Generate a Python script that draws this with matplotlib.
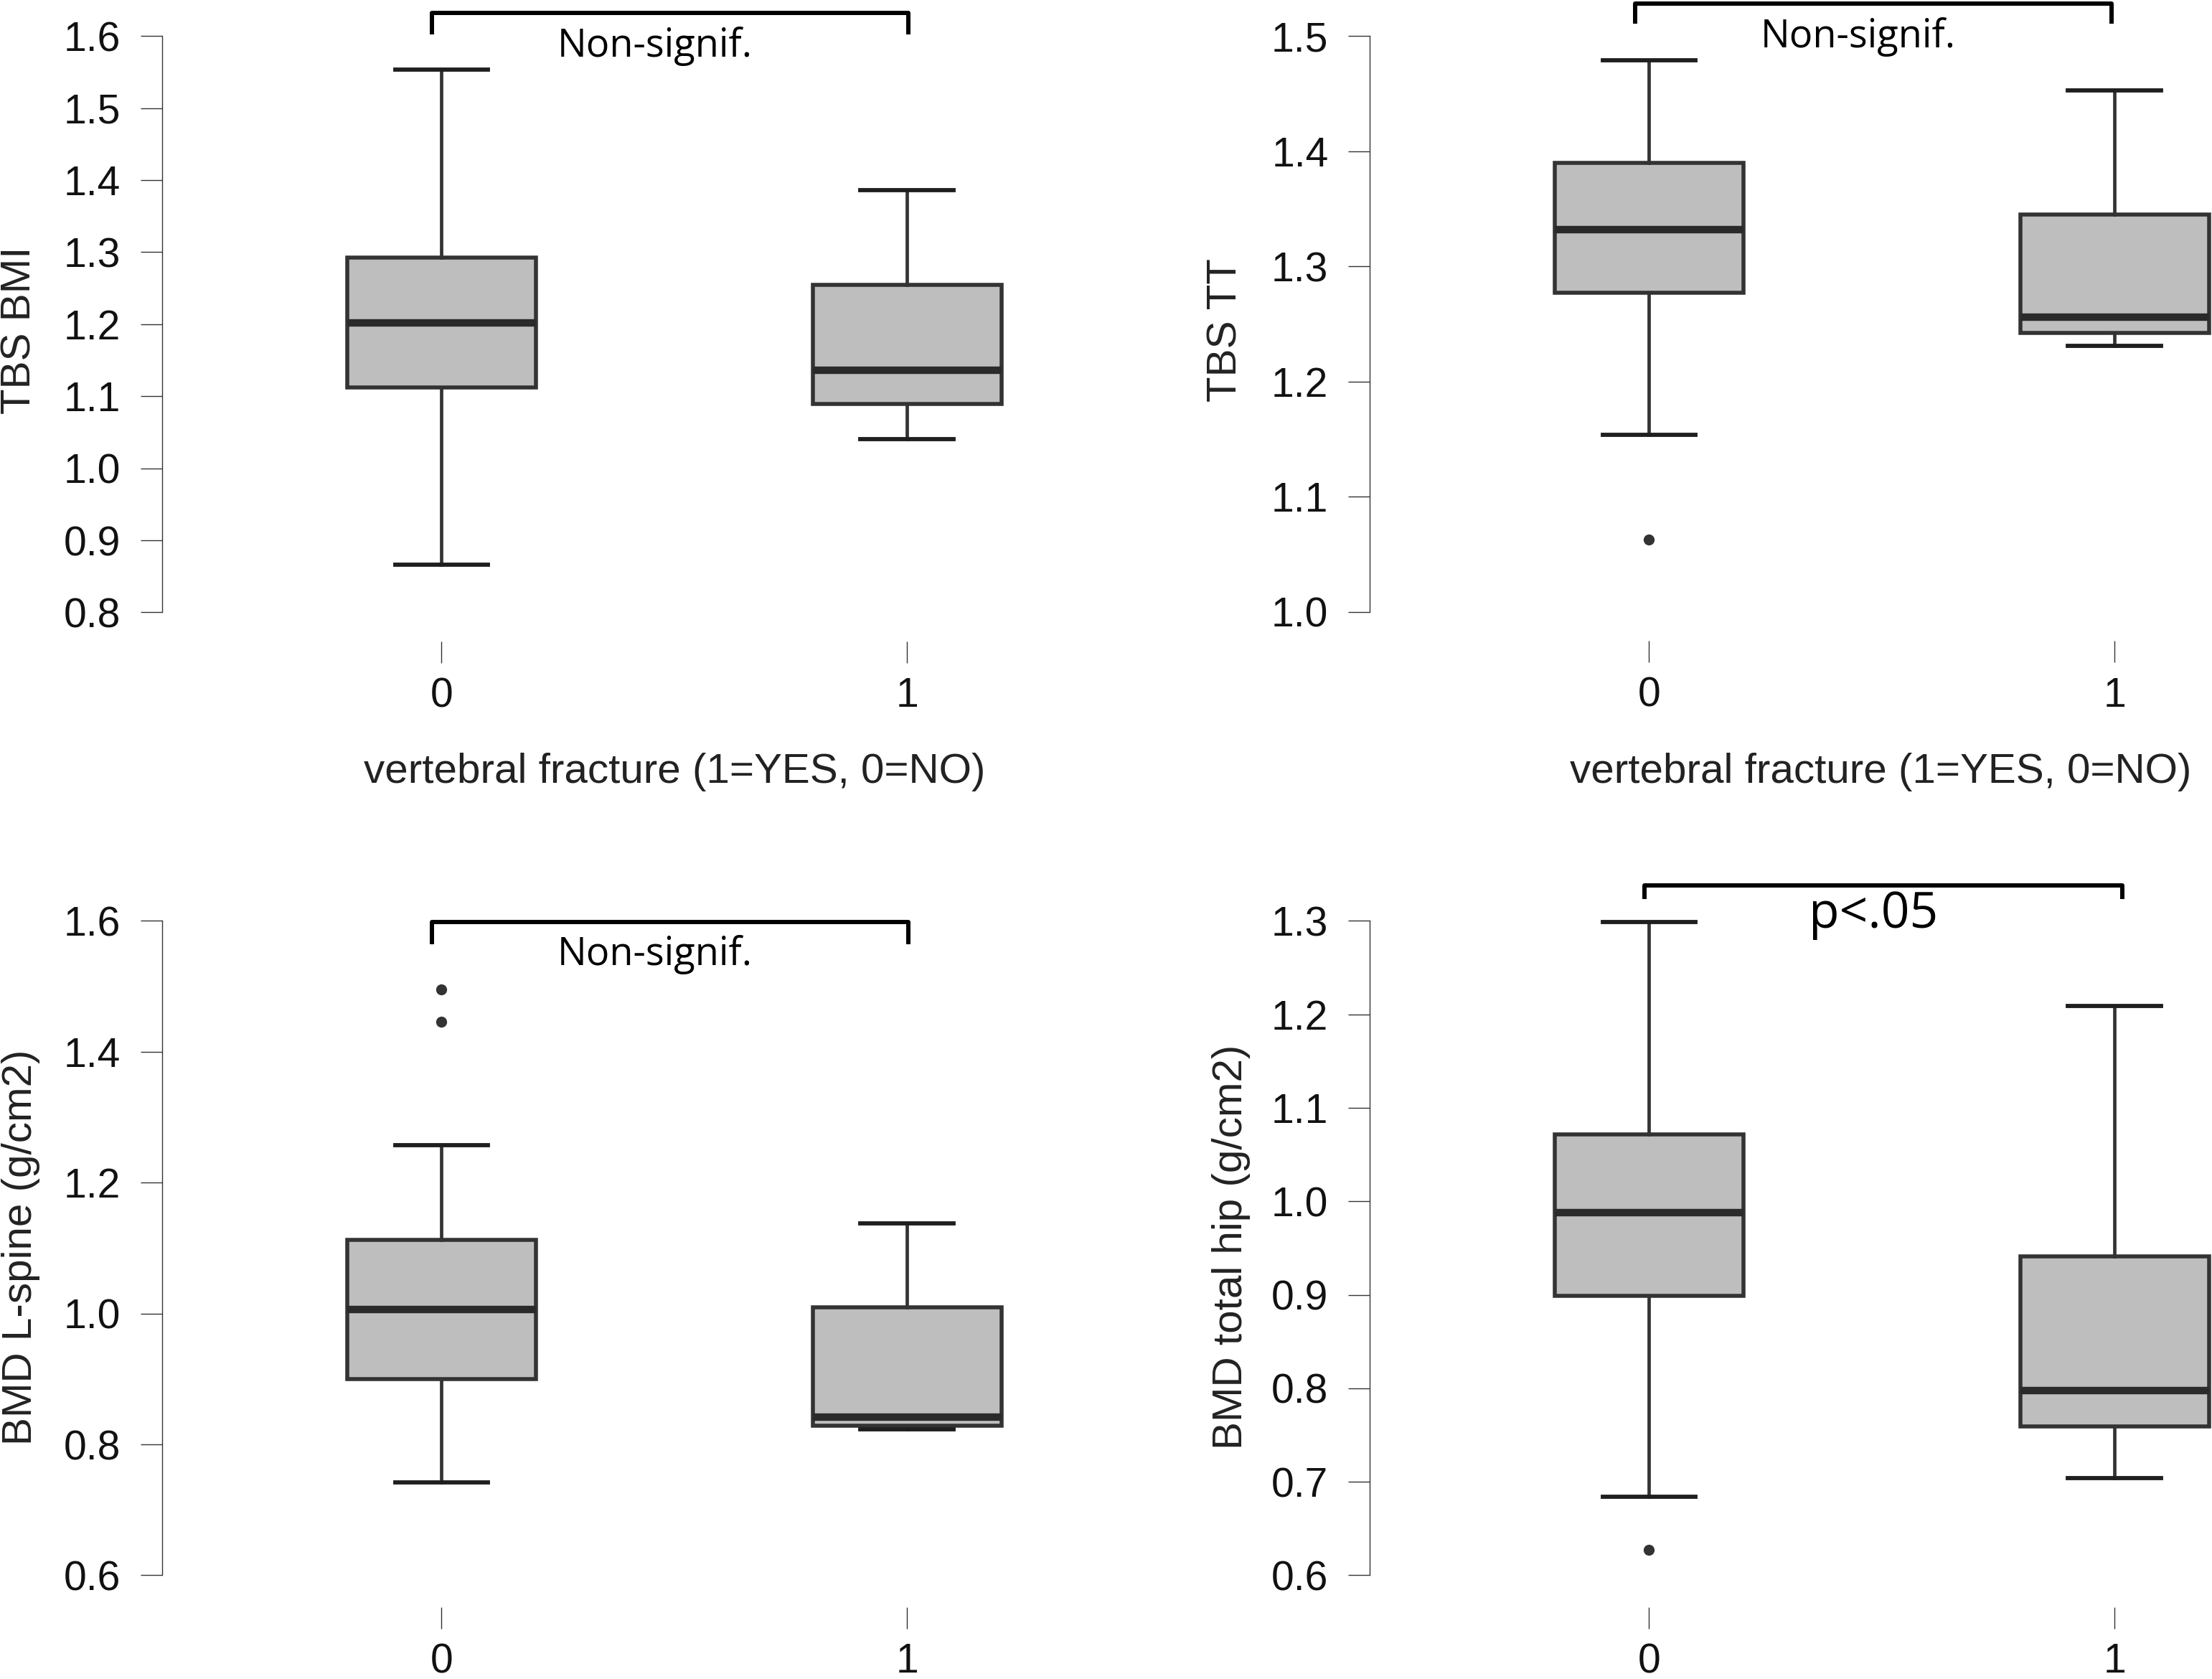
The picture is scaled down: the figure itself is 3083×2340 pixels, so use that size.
import numpy as np
import matplotlib.pyplot as plt
from matplotlib.lines import Line2D

# reference grid (px) used to place panels and notes
W, H = 1568.0, 1190.0

groups = [0, 1]
group_labels = ['0', '1']

# TBS BMI
tbs_bmi_whislo = [0.866, 1.040]
tbs_bmi_q1 = [1.112, 1.089]
tbs_bmi_med = [1.202, 1.136]
tbs_bmi_q3 = [1.293, 1.255]
tbs_bmi_whishi = [1.554, 1.386]
tbs_bmi_fliers = [[], []]

# TBS TT
tbs_tt_whislo = [1.154, 1.231]
tbs_tt_q1 = [1.277, 1.242]
tbs_tt_med = [1.332, 1.256]
tbs_tt_q3 = [1.390, 1.345]
tbs_tt_whishi = [1.479, 1.453]
tbs_tt_fliers = [[1.063], []]

# BMD L-spine
bmd_ls_whislo = [0.742, 0.823]
bmd_ls_q1 = [0.900, 0.829]
bmd_ls_med = [1.006, 0.842]
bmd_ls_q3 = [1.113, 1.009]
bmd_ls_whishi = [1.257, 1.138]
bmd_ls_fliers = [[1.495, 1.446], []]

# BMD total hip
bmd_hip_whislo = [0.684, 0.704]
bmd_hip_q1 = [0.899, 0.759]
bmd_hip_med = [0.988, 0.798]
bmd_hip_q3 = [1.072, 0.941]
bmd_hip_whishi = [1.299, 1.209]
bmd_hip_fliers = [[0.627], []]

ylabels = ['TBS BMI', 'TBS TT', 'BMD L-spine (g/cm2)', 'BMD total hip (g/cm2)']
yticks_list = [np.arange(0.8, 1.61, 0.1), np.arange(1.0, 1.51, 0.1),
               np.arange(0.6, 1.61, 0.2), np.arange(0.6, 1.31, 0.1)]
sig_texts = ['Non-signif.', 'Non-signif.', 'Non-signif.', 'p<.05']
xlabel = 'vertebral fracture (1=YES, 0=NO)'


def make_stats(lo, q1, med, q3, hi, fl):
    return [dict(whislo=lo[i], q1=q1[i], med=med[i], q3=q3[i], whishi=hi[i],
                 fliers=fl[i]) for i in range(len(groups))]


stats = [
    make_stats(tbs_bmi_whislo, tbs_bmi_q1, tbs_bmi_med, tbs_bmi_q3, tbs_bmi_whishi, tbs_bmi_fliers),
    make_stats(tbs_tt_whislo, tbs_tt_q1, tbs_tt_med, tbs_tt_q3, tbs_tt_whishi, tbs_tt_fliers),
    make_stats(bmd_ls_whislo, bmd_ls_q1, bmd_ls_med, bmd_ls_q3, bmd_ls_whishi, bmd_ls_fliers),
    make_stats(bmd_hip_whislo, bmd_hip_q1, bmd_hip_med, bmd_hip_q3, bmd_hip_whishi, bmd_hip_fliers),
]

# layout: x of group 0, top px, bottom px, x-axis offset (pt)
panels = [
    dict(x0=313, ytop=25.6, ybot=434.0, off=29),
    dict(x0=1169, ytop=25.6, ybot=433.7, off=29),
    dict(x0=313, ytop=652.7, ybot=1116.5, off=32),
    dict(x0=1169, ytop=652.7, ybot=1116.5, off=32),
]
spacing = 330.0
xmin, xmax = -0.6, 1.2

# brackets: x left, x right, y line, y leg end, text x, text baseline, text size
brackets = [
    (306, 644, 9.2, 24.5, 464, 40, 39),
    (1159, 1497, 2.4, 17.0, 1317, 33.4, 39),
    (306, 644, 653.5, 669, 464, 684, 39),
    (1165.5, 1504.5, 627.5, 637, 1328, 657.7, 50),
]
ylabel_pos = [(14, 234), (869, 234), (15, 884), (873, 884)]
xlabel_pos = [(478, 547), (1333, 547)]

plt.rcParams['font.family'] = ['Liberation Sans', 'DejaVu Sans']
fig = plt.figure(figsize=(30.83, 23.4), dpi=100)

dark = '#333333'


def fx(x):
    return x / W


def fy(y):
    return 1 - y / H


for i, p in enumerate(panels):
    left = p['x0'] + xmin * spacing
    right = p['x0'] + xmax * spacing
    ax = fig.add_axes([fx(left), fy(p['ybot']), (right - left) / W, (p['ybot'] - p['ytop']) / H])
    yt = yticks_list[i]
    ax.set_xlim(xmin, xmax)
    ax.set_ylim(yt[0], yt[-1])
    art = ax.bxp(stats[i], positions=groups, widths=0.405, capwidths=0.2,
                 patch_artist=True, manage_ticks=False,
                 boxprops=dict(facecolor='#bebebe', edgecolor=dark, linewidth=4.0),
                 whiskerprops=dict(color=dark, linewidth=3.4),
                 capprops=dict(color='#1f1f1f', linewidth=4.2),
                 medianprops=dict(color='#2a2a2a', linewidth=7.5, solid_capstyle='butt'),
                 flierprops=dict(marker='o', markerfacecolor=dark, markeredgecolor=dark,
                                 markersize=10))
    for k in art:
        for a in art[k]:
            a.set_clip_on(False)
    for s in ['top', 'right']:
        ax.spines[s].set_visible(False)
    ax.spines['bottom'].set_visible(False)
    ax.spines['bottom'].set_position(('outward', p['off']))
    ax.spines['left'].set_color(dark)
    ax.spines['left'].set_linewidth(1.0)
    ax.set_yticks(yt)
    ax.set_yticklabels(['%.1f' % v for v in yt])
    ax.set_xticks(groups)
    ax.set_xticklabels(group_labels)
    ax.tick_params(axis='y', length=21.6, width=1.0, pad=20, labelsize=41, color=dark,
                   labelcolor='#111111')
    ax.tick_params(axis='x', length=21.6, width=1.0, pad=14, labelsize=41, color=dark,
                   labelcolor='#111111')
    ax.patch.set_alpha(0)

    xl, xr, yl, yleg, tx, ty, ts = brackets[i]
    fig.add_artist(Line2D([fx(xl), fx(xl), fx(xr), fx(xr)],
                          [fy(yleg), fy(yl), fy(yl), fy(yleg)],
                          transform=fig.transFigure, color='black', linewidth=4.3,
                          solid_joinstyle='round', solid_capstyle='butt'))
    fig.text(fx(tx), fy(ty), sig_texts[i], ha='center', va='baseline', fontsize=ts,
             family=['Open Sans', 'DejaVu Sans'], color='black')

    lx, ly = ylabel_pos[i]
    fig.text(fx(lx), fy(ly), ylabels[i], rotation=90, ha='center', va='center',
             fontsize=42, color='#222222')

for lx, ly in xlabel_pos:
    fig.text(fx(lx), fy(ly), xlabel, ha='center', va='center', fontsize=42, color='#222222')

fig.savefig('out.png', dpi=100)
